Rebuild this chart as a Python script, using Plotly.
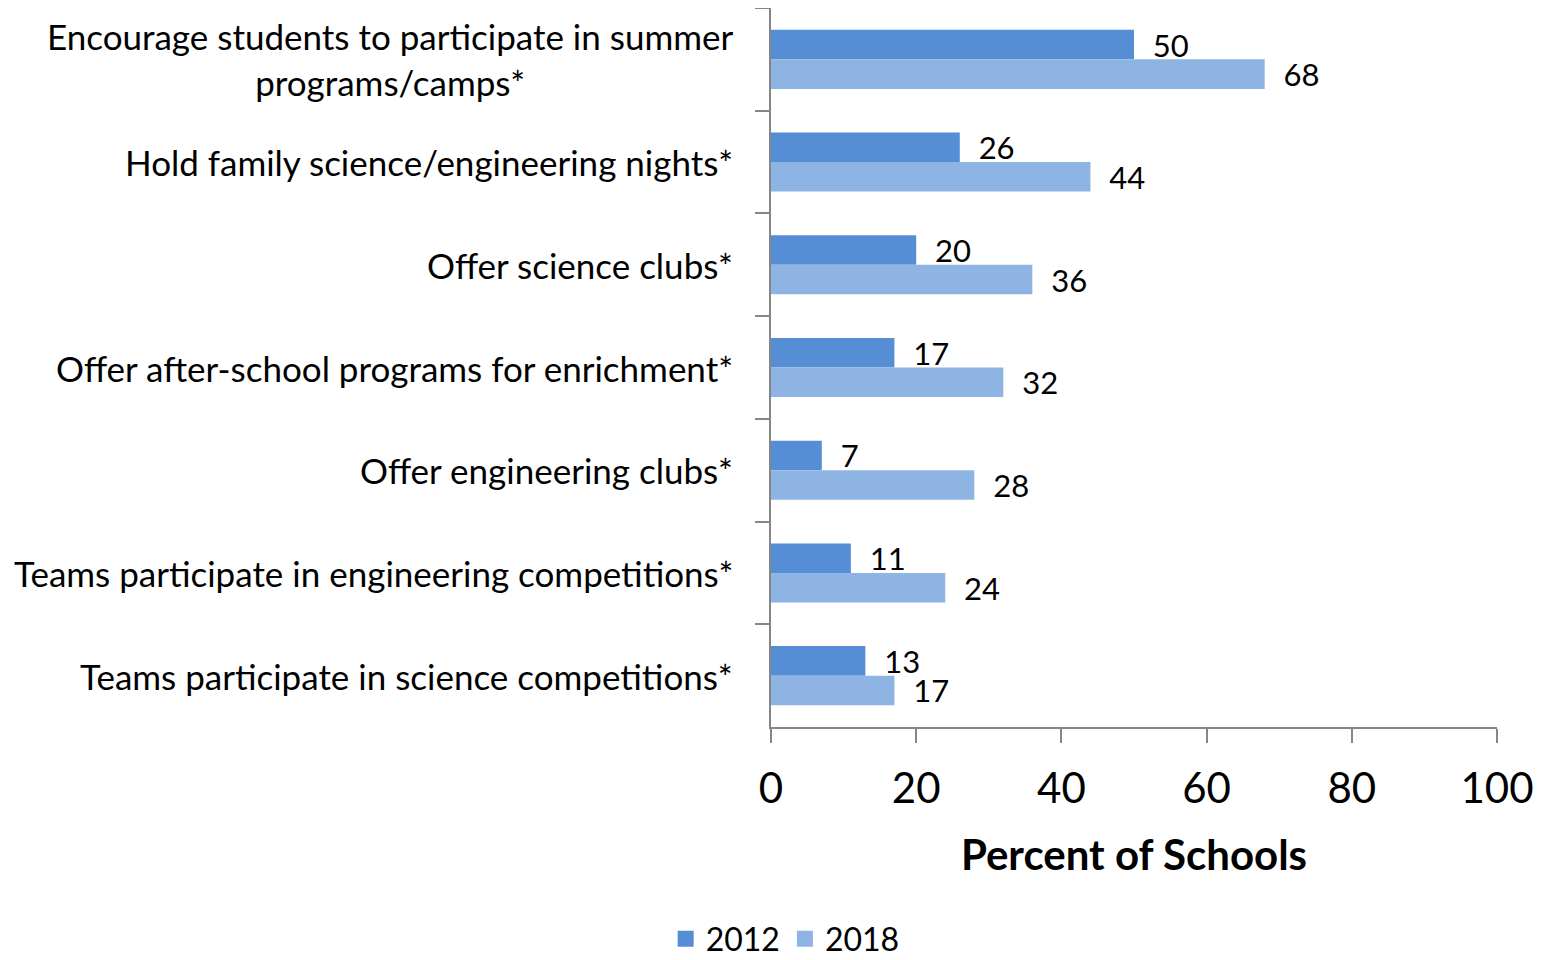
import plotly.graph_objects as go

categories = [
    "Encourage students to participate in summer<br>programs/camps*",
    "Hold family science/engineering nights*",
    "Offer science clubs*",
    "Offer after-school programs for enrichment*",
    "Offer engineering clubs*",
    "Teams participate in engineering competitions*",
    "Teams participate in science competitions*",
]
values_2012 = [50, 26, 20, 17, 7, 11, 13]
values_2018 = [68, 44, 36, 32, 28, 24, 17]
series_names = ["2012", "2018"]
x_tick_values = [0, 20, 40, 60, 80, 100]
x_title = "Percent of Schools"

FONT = "Lato, Carlito, Calibri, sans-serif"
colors = ["#558ED5", "#8EB4E3"]

fig = go.Figure()
for name, vals, col in zip(series_names, [values_2012, values_2018], colors):
    fig.add_trace(go.Bar(
        y=categories, x=vals, name=name, orientation="h",
        marker=dict(color=col, line=dict(width=0)),
        text=[str(v) for v in vals],
        texttemplate="\u00a0\u00a0%{text}",
        textposition="outside", constraintext="none", cliponaxis=False,
        textfont=dict(family=FONT, size=31, color="black"),
        showlegend=False,
    ))
# legend entries with larger square swatches
for name, col in zip(series_names, colors):
    fig.add_trace(go.Scatter(
        x=[None], y=[None], mode="markers", name=name,
        marker=dict(symbol="square", size=21, color=col),
        showlegend=True, hoverinfo="skip",
    ))

annotations = []
for cat in categories:
    annotations.append(dict(
        x=0, xref="paper", y=cat, yref="y", xanchor="right", yanchor="middle",
        xshift=-36, text=cat, align="center", showarrow=False,
        font=dict(family=FONT, size=35, color="black"),
    ))

fig.update_layout(
    width=1542, height=952,
    margin=dict(l=763, r=53, t=0, b=233, autoexpand=False),
    paper_bgcolor="white", plot_bgcolor="white",
    barmode="group", bargap=0.425, bargroupgap=0,
    font=dict(family=FONT, color="black"),
    showlegend=True,
    legend=dict(
        orientation="h", xref="container", yref="container",
        x=0.504, y=0.022, xanchor="center", yanchor="middle",
        font=dict(family=FONT, size=32, color="black"),
        itemwidth=30, tracegroupgap=0,
    ),
    annotations=annotations,
    xaxis=dict(
        range=[0, 100], tickvals=x_tick_values, showgrid=False, zeroline=False,
        showline=True, linecolor="#868686", linewidth=1.5,
        ticks="outside", ticklen=14, tickcolor="#868686", tickwidth=1.5,
        tickfont=dict(family=FONT, size=42, color="black"),
        ticklabelstandoff=10, automargin=False,
        title=dict(text="<b>" + x_title + "</b>", standoff=29,
                   font=dict(family=FONT, size=42, color="black")),
    ),
    yaxis=dict(
        autorange="reversed", showgrid=False, zeroline=False,
        showline=True, linecolor="#868686", linewidth=1.5,
        ticks="outside", ticklen=14, tickcolor="#868686", tickwidth=1.5,
        tickson="boundaries", showticklabels=False, automargin=False,
    ),
)

fig.write_html("out.html")
